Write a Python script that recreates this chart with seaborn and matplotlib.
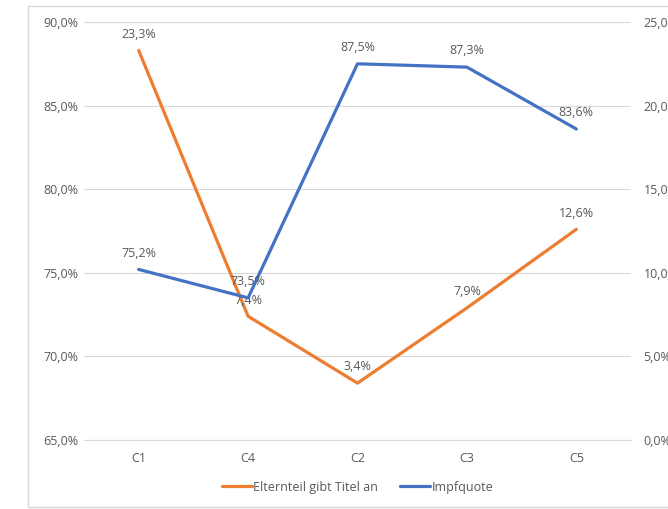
import numpy as np
import pandas as pd
import matplotlib
matplotlib.use("Agg")
import matplotlib.pyplot as plt
import seaborn as sns
from matplotlib.patches import Rectangle

# data
categories = ["C1", "C4", "C2", "C3", "C5"]
impfquote = [75.2, 73.5, 87.5, 87.3, 83.6]
elternteil = [23.3, 7.4, 3.4, 7.9, 12.6]

left_ticks = [65, 70, 75, 80, 85, 90]
right_ticks = [0, 5, 10, 15, 20, 25]

sns.set_style("white")
plt.rcParams['font.family'] = ['Open Sans', 'DejaVu Sans']

gray = "#595959"
blue = "#4472C4"
orange = "#ED7D31"
fs = 9

df = pd.DataFrame({"cat": categories, "impf": impfquote, "eltern": elternteil})
df["x"] = np.arange(len(df))

fig = plt.figure(figsize=(6.68, 5.09), dpi=100)
ax = fig.add_axes([0.1257, 0.1356, 0.819, 0.8212])
ax2 = ax.twinx()
# blue line drawn above orange
ax.set_zorder(ax2.get_zorder() + 1)
ax.patch.set_visible(False)

def pct(v):
    return f"{v:.1f}%".replace(".", ",")

# primary axis: Impfquote
sns.lineplot(data=df, x="x", y="impf", ax=ax, color=blue, linewidth=2.3, legend=False)
ax.set_ylim(65, 90)
ax.set_yticks(left_ticks)
ax.set_yticklabels([pct(t) for t in left_ticks])
ax.set_xlim(-0.5, len(df) - 0.5)
ax.set_xticks(df["x"])
ax.set_xticklabels(categories)
ax.set_xlabel("")
ax.set_ylabel("")

# secondary axis: Elternteil
sns.lineplot(data=df, x="x", y="eltern", ax=ax2, color=orange, linewidth=2.3, legend=False)
ax2.set_ylim(0, 25)
ax2.set_yticks(right_ticks)
ax2.set_yticklabels([pct(t) for t in right_ticks])
ax2.set_ylabel("")
ax2.grid(axis="y", color="#d9d9d9", linewidth=0.8)
ax2.set_axisbelow(True)

for a in (ax, ax2):
    for s in a.spines.values():
        s.set_visible(False)
    a.tick_params(length=0, colors=gray, labelsize=fs)
ax.spines["bottom"].set_visible(True)
ax.spines["bottom"].set_color("#d9d9d9")
ax.tick_params(axis="y", pad=4)
ax2.tick_params(axis="y", pad=9)
ax.tick_params(axis="x", pad=9)

# data labels
for xi, v in zip(df["x"], impfquote):
    ax.annotate(pct(v), (xi, v), xytext=(0, 7), textcoords="offset points",
                ha="center", va="bottom", color=gray, fontsize=fs)
for xi, v in zip(df["x"], elternteil):
    ax2.annotate(pct(v), (xi, v), xytext=(0, 7), textcoords="offset points",
                 ha="center", va="bottom", color=gray, fontsize=fs)

# legend
handles = [plt.Line2D([], [], color=orange, linewidth=2.3),
           plt.Line2D([], [], color=blue, linewidth=2.3)]
fig.legend(handles, ["Elternteil gibt Titel an", "Impfquote"], loc="center",
           bbox_to_anchor=(0.535, 0.043), ncol=2, frameon=False, fontsize=fs,
           labelcolor=gray, handlelength=2.4, handletextpad=0.1, columnspacing=1.8)

# chart area border
fig.patches.append(Rectangle((28 / 668, 2 / 509), 1.0, 1 - 8 / 509, transform=fig.transFigure,
                             fill=False, edgecolor="#d9d9d9", linewidth=1))

fig.savefig("out.png", dpi=100)
